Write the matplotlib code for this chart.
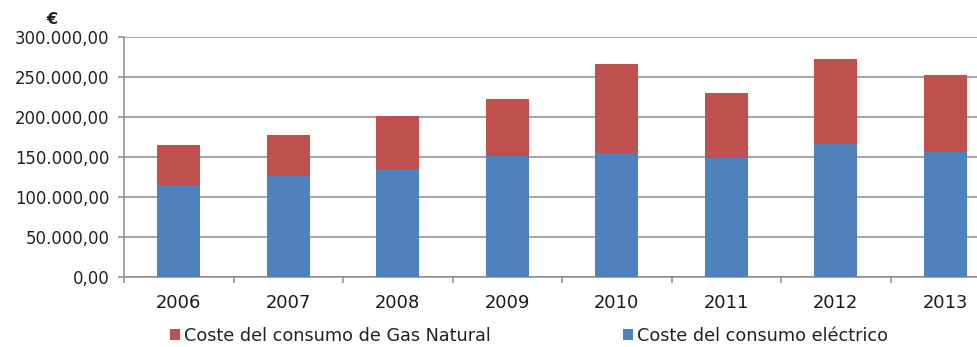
import matplotlib
matplotlib.use("Agg")
import matplotlib.pyplot as plt
from matplotlib.ticker import FuncFormatter, FixedLocator
import numpy as np

years = ["2006", "2007", "2008", "2009", "2010", "2011", "2012", "2013"]
# coste electrico (blue, bottom) and total cost
electrico = [115000, 126000, 135000, 151500, 154500, 148500, 166000, 156500]
total = [165000, 178000, 201500, 222000, 265500, 230000, 272000, 252500]
gas_natural = [t - e for t, e in zip(total, electrico)]

yticks = [0, 50000, 100000, 150000, 200000, 250000, 300000]

BLUE = "#4f81bd"
RED = "#c0504d"
GRID = "#8c8c8c"


def euro_fmt(v, pos=None):
    s = f"{v:,.2f}"
    return s.replace(",", "X").replace(".", ",").replace("X", ".")


fig = plt.figure(figsize=(9.77, 3.47), dpi=100)
# axes run past the right edge, as in the cropped original
ax = fig.add_axes([124 / 977, 1 - 277.3 / 347, 876 / 977, 240.6 / 347])

x = np.arange(len(years))
b_el = ax.bar(x, electrico, width=0.39, color=BLUE, zorder=3)
b_gas = ax.bar(x, gas_natural, bottom=electrico, width=0.39, color=RED, zorder=3)

ax.set_xlim(-0.5, len(years) - 0.5)
ax.set_ylim(0, 300000)
ax.set_yticks(yticks)
ax.yaxis.set_major_formatter(FuncFormatter(euro_fmt))
ax.grid(axis="y", color=GRID, linewidth=1.1, zorder=0)

ax.set_xticks(x)
ax.set_xticklabels(years, fontsize=12.9, color="#1a1a1a")
ax.xaxis.set_minor_locator(FixedLocator(np.arange(-0.5, len(years), 1.0)))
ax.tick_params(axis="x", which="major", length=0, pad=12)
ax.tick_params(axis="x", which="minor", length=4, color=GRID, width=1.1)
ax.tick_params(axis="y", length=4.5, color=GRID, width=1.1, labelsize=11.9, pad=6,
               labelcolor="#222222")

for side in ["top", "right"]:
    ax.spines[side].set_visible(False)
for side in ["left", "bottom"]:
    ax.spines[side].set_color(GRID)
    ax.spines[side].set_linewidth(1.1)

fig.text(52 / 977, 1 - 19 / 347, "€", fontsize=11.5, fontweight="bold",
         ha="center", va="center", color="#222222")

fig.legend([b_gas, b_el],
           ["Coste del consumo de Gas Natural", "Coste del consumo eléctrico"],
           ncol=2, loc="center left", bbox_to_anchor=(170 / 977, 1 - 336 / 347),
           frameon=False, fontsize=12.7, handlelength=0.55, handleheight=0.55,
           handletextpad=0.25, columnspacing=7.5, borderaxespad=0, borderpad=0,
           labelcolor="#222222")

fig.savefig("out.png", dpi=100)
